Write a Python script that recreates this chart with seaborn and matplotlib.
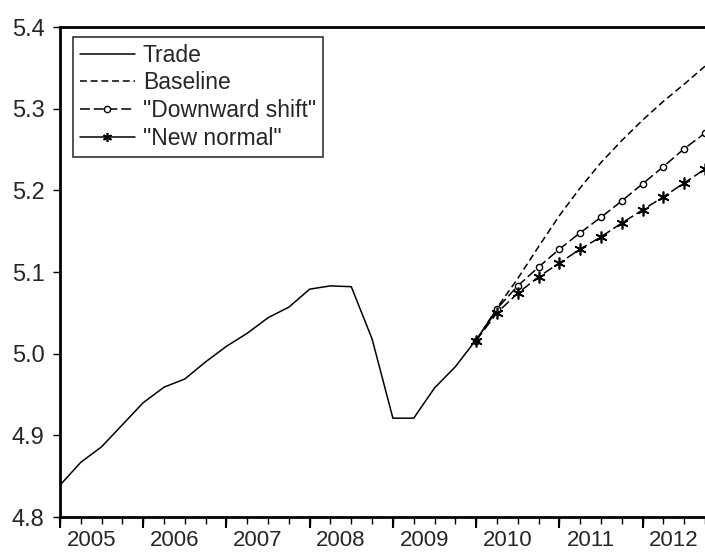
import numpy as np
import pandas as pd
import matplotlib
matplotlib.use("Agg")
import matplotlib.pyplot as plt
import seaborn as sns

sns.set_style("white")
plt.rcParams['font.family'] = ['Liberation Sans', 'DejaVu Sans']

# quarterly data, 2005Q1 .. 2012Q4
years = [2005, 2006, 2007, 2008, 2009, 2010, 2011, 2012]
quarters = [f"{y}Q{q}" for y in years for q in range(1, 5)]

trade = [4.839, 4.867, 4.886, 4.913, 4.940, 4.959, 4.969, 4.990,
         5.009, 5.025, 5.044, 5.057, 5.079, 5.083, 5.082, 5.018,
         4.921, 4.921, 4.958, 4.984, 5.017, 5.053]
baseline = [5.016, 5.056, 5.092, 5.131, 5.169, 5.203, 5.234, 5.261,
            5.286, 5.309, 5.330, 5.352]
downward = [5.016, 5.055, 5.083, 5.106, 5.128, 5.148, 5.167, 5.187,
            5.208, 5.229, 5.251, 5.270]
new_normal = [5.016, 5.050, 5.074, 5.094, 5.111, 5.128, 5.143, 5.160,
              5.176, 5.192, 5.209, 5.226]

idx = np.arange(len(quarters))
t_x = idx[:len(trade)]
f_x = idx[20:20 + len(baseline)]

fig = plt.figure(figsize=(7.05, 5.52), dpi=100)
ax = fig.add_axes([60 / 705, 35 / 552, 645 / 705, 490 / 552])

sns.lineplot(x=t_x, y=trade, color="black", lw=1.1, ax=ax, label="Trade")
sns.lineplot(x=f_x, y=baseline, color="black", lw=1.1, ax=ax, label="Baseline")
ax.lines[-1].set_dashes((4.5, 2.5))
sns.lineplot(x=f_x, y=downward, color="black", lw=1.1, ax=ax,
             label='"Downward shift"', marker="o", markersize=4.5,
             markerfacecolor="white", markeredgecolor="black", markeredgewidth=1.0)
ax.lines[-1].set_dashes((6.5, 2.5))
sns.lineplot(x=f_x, y=new_normal, color="black", lw=1.1, ax=ax,
             label='"New normal"', marker=(6, 2, 0), markersize=8.5,
             markeredgecolor="black", markeredgewidth=1.2)
ax.lines[-1].set_dashes((6.5, 2.5))

ax.set_xlim(0, 30.66)
ax.set_ylim(4.8, 5.4)
ax.set_yticks([4.8, 4.9, 5.0, 5.1, 5.2, 5.3, 5.4])
ax.set_yticklabels(["4.8", "4.9", "5.0", "5.1", "5.2", "5.3", "5.4"], fontsize=17)

# year labels centred in each year, quarter ticks as minor
ax.set_xticks(np.arange(len(years)) * 4 + 1.5)
ax.set_xticklabels([str(y) for y in years], fontsize=16)
ax.set_xticks(idx, minor=True)
ax.tick_params(axis="x", which="major", length=0, pad=9)
ax.tick_params(axis="x", which="minor", bottom=True, length=5, width=1, color="black")
ax.tick_params(axis="y", left=True, length=5, width=1, color="black", pad=6)

sec = ax.secondary_xaxis("bottom")
sec.set_xticks(np.arange(len(years)) * 4)
sec.set_xticklabels([])
sec.tick_params(length=8, width=1.5, color="black")
sec.spines["bottom"].set_visible(False)

for s in ["left", "bottom", "top"]:
    ax.spines[s].set_color("black")
    ax.spines[s].set_linewidth(2)
ax.spines["right"].set_visible(False)

leg = ax.legend(loc="upper left", bbox_to_anchor=(13 / 645, 1 - 10 / 490),
                borderaxespad=0, fontsize=16.5, handlelength=2.4, handletextpad=0.35,
                labelspacing=0.2, borderpad=0.3, frameon=True, fancybox=False,
                edgecolor="black")
leg.get_frame().set_linewidth(1.2)
hs = leg.legend_handles
hs[2].set_markersize(4.5)
hs[3].set_markersize(6.5)
hs[3].set_linestyle("-")

ax.set_xlabel("")
ax.set_ylabel("")
fig.savefig("out.png", dpi=100)
